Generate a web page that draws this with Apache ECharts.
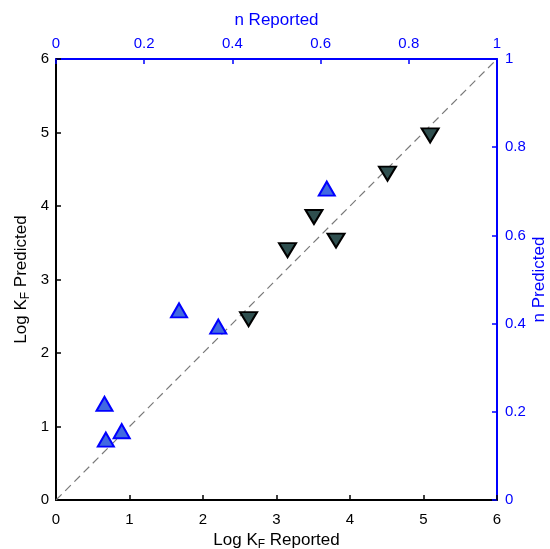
<!DOCTYPE html>
<html>
<head>
<meta charset="utf-8">
<script src="https://cdn.jsdelivr.net/npm/echarts@6/dist/echarts.min.js"></script>
<style>
  html, body { margin: 0; padding: 0; background: #fff; }
  #chart { width: 550px; height: 549px; }
</style>
</head>
<body>
<div id="chart"></div>
<script>
// Log KF reported vs predicted (black, bottom/left axes)
var logkReported = [2.62, 3.15, 3.51, 3.81, 4.51, 5.09];
var logkPredicted = [2.46, 3.40, 3.85, 3.53, 4.44, 4.96];

// n reported vs predicted (blue, top/right axes)
var nReported = [0.279, 0.368, 0.110, 0.149, 0.113, 0.614];
var nPredicted = [0.430, 0.393, 0.218, 0.156, 0.137, 0.706];

// 1:1 line
var diagX = [0, 6];
var diagY = [0, 6];

var font = 'Liberation Sans, Arial, sans-serif';

var pairs = function(xs, ys) {
    return xs.map(function(x, i) { return [x, ys[i]]; });
};

var myChart = echarts.init(document.getElementById('chart'));

var axisBase = function(color) {
    return {
        axisLine: { show: true, onZero: false, lineStyle: { color: color, width: 2 } },
        axisTick: { show: true, inside: true, length: 5, lineStyle: { color: color, width: 1.5 } },
        splitLine: { show: false },
        axisLabel: { color: color, fontSize: 15, fontFamily: font },
        nameTextStyle: { color: color, fontSize: 17, fontFamily: font },
        nameLocation: 'middle',
        nameMoveOverlap: false
    };
};

var rich = {
    sub: { fontSize: 12, fontFamily: font, padding: [9, 0, 0, 0] }
};

var option = {
    animation: false,
    backgroundColor: '#fff',
    grid: { left: 56, right: 53, top: 59, bottom: 49, containLabel: false, outerBoundsMode: 'none' },
    xAxis: [
        Object.assign(axisBase('#000'), {
            type: 'value', position: 'bottom', min: 0, max: 6, interval: 1,
            name: 'Log K{sub|F} Reported', nameGap: 30,
            nameTextStyle: { color: '#000', fontSize: 17, fontFamily: font, rich: rich },
            axisLabel: { color: '#000', fontSize: 15, fontFamily: font, margin: 12 }
        }),
        Object.assign(axisBase('#0000ff'), {
            type: 'value', position: 'top', min: 0, max: 1, interval: 0.2,
            name: 'n Reported', nameGap: 30,
            axisLabel: { color: '#0000ff', fontSize: 15, fontFamily: font, margin: 8 }
        })
    ],
    yAxis: [
        Object.assign(axisBase('#000'), {
            type: 'value', position: 'left', min: 0, max: 6, interval: 1,
            name: 'Log K{sub|F} Predicted', nameGap: 24, nameRotate: 90,
            nameTextStyle: { color: '#000', fontSize: 17, fontFamily: font, rich: rich },
            axisLabel: { color: '#000', fontSize: 15, fontFamily: font, margin: 7 }
        }),
        Object.assign(axisBase('#0000ff'), {
            type: 'value', position: 'right', min: 0, max: 1, interval: 0.2,
            name: 'n Predicted', nameGap: 34, nameRotate: 90,
            axisLabel: { color: '#0000ff', fontSize: 15, fontFamily: font, margin: 8 }
        })
    ],
    series: [{
        type: 'line',
        xAxisIndex: 0,
        yAxisIndex: 0,
        data: pairs(diagX, diagY),
        symbol: 'none',
        lineStyle: { color: '#7a7a7a', width: 1.2, type: [8, 5] },
        z: 1
    }, {
        name: 'Log KF',
        type: 'scatter',
        xAxisIndex: 0,
        yAxisIndex: 0,
        data: pairs(logkReported, logkPredicted),
        symbol: 'triangle',
        symbolRotate: 180,
        symbolSize: [17, 14],
        itemStyle: { color: '#2f4f4f', borderColor: '#000', borderWidth: 2, opacity: 1 },
        z: 3
    }, {
        name: 'n',
        type: 'scatter',
        xAxisIndex: 1,
        yAxisIndex: 1,
        data: pairs(nReported, nPredicted),
        symbol: 'triangle',
        symbolSize: [16, 14],
        itemStyle: { color: '#4169e1', borderColor: '#0000ff', borderWidth: 2, opacity: 1 },
        z: 3
    }]
};

myChart.setOption(option);
</script>
</body>
</html>
